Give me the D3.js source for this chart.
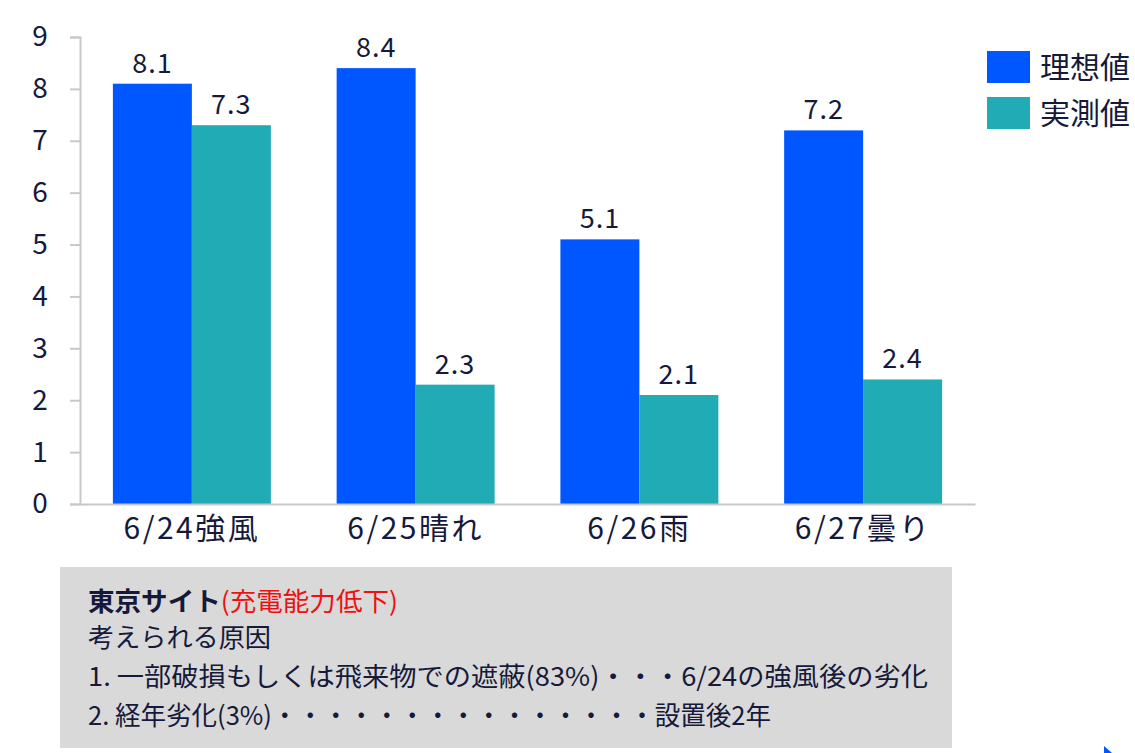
<!DOCTYPE html>
<html>
<head>
<meta charset="utf-8">
<script src="https://cdn.jsdelivr.net/npm/d3@7"></script>
<style>
  body { margin: 0; background: #fff; }
  text { font-family: "Noto Sans CJK JP", "Noto Sans", sans-serif; }
</style>
</head>
<body>
<svg id="drawing_region"></svg>
<script>
const categories = ["6/24強風", "6/25晴れ", "6/26雨", "6/27曇り"];
const seriesNames = ["理想値", "実測値"];
const ideal = [8.1, 8.4, 5.1, 7.2];
const measured = [7.3, 2.3, 2.1, 2.4];
const yTicks = [0, 1, 2, 3, 4, 5, 6, 7, 8, 9];
const colors = ["#0057ff", "#21abb5"];

const noteTitle = "東京サイト";
const noteTitleRed = "(充電能力低下)";
const noteLines = [
    "考えられる原因",
    "1.  一部破損もしくは飛来物での遮蔽(83%)・・・6/24の強風後の劣化",
    "2.  経年劣化(3%)・・・・・・・・・・・・・・・設置後2年"
];

const W = 1135, H = 753;
const svg = d3.select('#drawing_region').attr('width', W).attr('height', H);

const plotLeft = 80, plotRight = 975, plotTop = 37, plotBottom = 504;

const x0 = d3.scaleBand().domain(categories).range([plotLeft, plotRight]).padding(0);
const bw = x0.bandwidth();
const x1 = d3.scaleBand().domain(seriesNames).range([bw * 0.147, bw * 0.853]).padding(0);
const y = d3.scaleLinear().domain([0, 9]).range([plotBottom, plotTop]);

const data = categories.map((c, i) => ({ cat: c, vals: [ideal[i], measured[i]] }));

// y axis
const yAxis = d3.axisLeft(y).tickValues(yTicks).tickSize(10).tickPadding(24).tickFormat(d3.format('d'));
const yg = svg.append('g').attr('transform', `translate(${plotLeft},0)`).call(yAxis);
yg.select('.domain').attr('stroke', '#c8c8c8').attr('stroke-width', 2);
yg.selectAll('.tick line').attr('stroke', '#c8c8c8').attr('stroke-width', 2);
yg.selectAll('.tick text').attr('font-size', 28).attr('fill', '#16193a')
    .attr('text-anchor', 'middle').attr('x', -40);

// bars
const groups = svg.selectAll('g.grp').data(data).enter().append('g')
    .attr('class', 'grp')
    .attr('transform', d => `translate(${x0(d.cat)},0)`);

groups.selectAll('rect').data(d => d.vals.map((v, j) => ({ name: seriesNames[j], v: v, j: j })))
    .enter().append('rect')
    .attr('x', d => x1(d.name))
    .attr('width', x1.bandwidth())
    .attr('y', d => y(d.v))
    .attr('height', d => y(0) - y(d.v))
    .attr('fill', d => colors[d.j]);

groups.selectAll('text.val').data(d => d.vals.map((v, j) => ({ name: seriesNames[j], v: v })))
    .enter().append('text')
    .attr('class', 'val')
    .attr('x', d => x1(d.name) + x1.bandwidth() / 2)
    .attr('y', d => y(d.v) - 11)
    .attr('text-anchor', 'middle')
    .attr('font-size', 27)
    .attr('letter-spacing', 1)
    .attr('fill', '#16193a')
    .text(d => d3.format('.1f')(d.v));

// x axis
const xAxis = d3.axisBottom(x0).tickSize(0).tickPadding(14);
const xg = svg.append('g').attr('transform', `translate(0,${plotBottom})`).call(xAxis);
xg.select('.domain').attr('stroke', '#c8c8c8').attr('stroke-width', 2);
xg.selectAll('.tick text').attr('font-size', 30).attr('letter-spacing', 2.5).attr('fill', '#16193a');

// legend
const lg = svg.append('g').attr('transform', 'translate(987,51)');
seriesNames.forEach((s, i) => {
    lg.append('rect').attr('x', 0).attr('y', i * 46).attr('width', 43).attr('height', 32).attr('fill', colors[i]);
    lg.append('text').attr('x', 53).attr('y', i * 46 + 27).attr('font-size', 30).attr('fill', '#16193a').text(s);
});

// note box
svg.append('rect').attr('x', 60).attr('y', 567).attr('width', 892).attr('height', 181).attr('fill', '#d9d9d9');
const t0 = svg.append('text').attr('x', 88).attr('y', 611).attr('font-size', 26)
    .attr('textLength', 310).attr('lengthAdjust', 'spacingAndGlyphs');
t0.append('tspan').attr('font-weight', 'bold').attr('fill', '#16193a').text(noteTitle);
t0.append('tspan').attr('fill', '#ee1111').text(noteTitleRed);

const lineY = [647, 686, 725];
const lineLen = [183, 840, 683];
noteLines.forEach((l, i) => {
    svg.append('text').attr('x', 88).attr('y', lineY[i]).attr('font-size', 26)
        .attr('fill', '#16193a')
        .attr('textLength', lineLen[i]).attr('lengthAdjust', 'spacingAndGlyphs')
        .text(l);
});

// small corner mark
svg.append('path').attr('d', 'M1104,746 L1112,753 L1104,753 Z').attr('fill', '#0057ff');
</script>
</body>
</html>
